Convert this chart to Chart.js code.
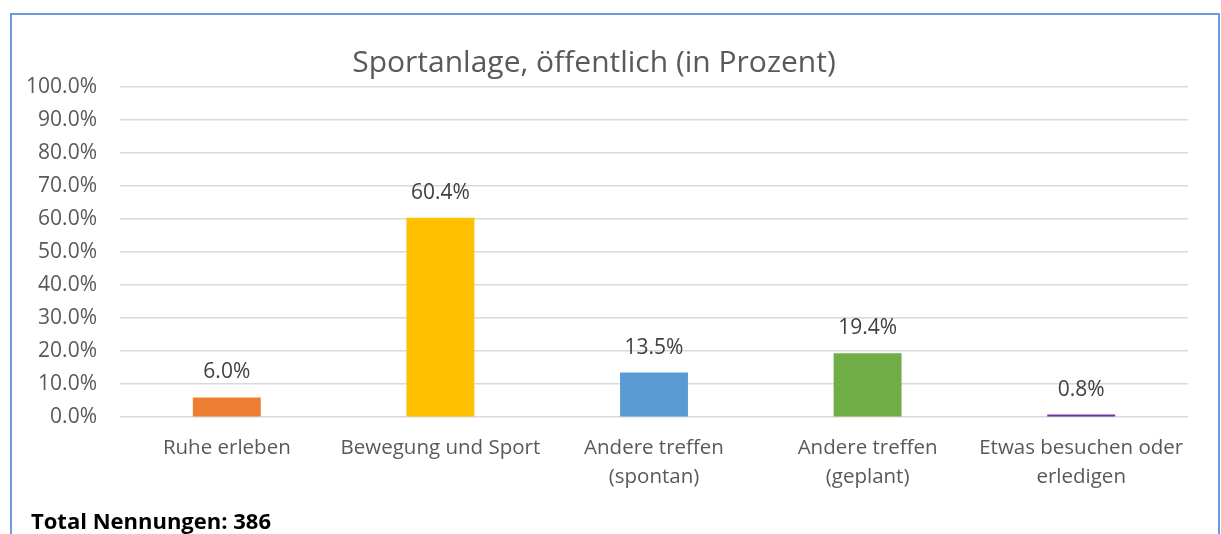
<!DOCTYPE html>
<html>
<head>
<meta charset="utf-8">
<script src="https://cdn.jsdelivr.net/npm/chart.js@4/dist/chart.umd.min.js"></script>
<style>
html,body{margin:0;padding:0;background:#fff;width:1221px;height:534px;overflow:hidden;}
#wrap{position:absolute;left:0;top:0;width:1221px;height:534px;}
#frame{position:absolute;left:10px;top:13px;width:1206px;height:560px;border:2px solid #6a9be0;pointer-events:none;}
</style>
</head>
<body>
<div id="wrap"><canvas id="c" width="1221" height="534"></canvas></div>
<div id="frame"></div>
<script>
const categories = [
  "Ruhe erleben",
  "Bewegung und Sport",
  ["Andere treffen", "(spontan)"],
  ["Andere treffen", "(geplant)"],
  ["Etwas besuchen oder", "erledigen"]
];
const values = [6.0, 60.4, 13.5, 19.4, 0.8];
const barColors = ["#ED7D31", "#FFC000", "#5B9BD5", "#70AD47", "#7030A0"];
const titleText = "Sportanlage, öffentlich (in Prozent)";
const footText = "Total Nennungen: 386";

const FONT = "'Open Sans', 'Noto Sans', sans-serif";

const valueLabels = {
  id: 'valueLabels',
  afterDatasetsDraw(chart) {
    const ctx = chart.ctx;
    const meta = chart.getDatasetMeta(0);
    ctx.save();
    ctx.font = "21px " + FONT;
    ctx.fillStyle = "#404040";
    ctx.textAlign = "center";
    ctx.textBaseline = "middle";
    meta.data.forEach((bar, i) => {
      ctx.fillText(values[i].toFixed(1) + "%", bar.x, bar.y - 25);
    });
    ctx.restore();
  }
};

const footer = {
  id: 'footer',
  afterDraw(chart) {
    const ctx = chart.ctx;
    ctx.save();
    ctx.font = "bold 22px " + FONT;
    ctx.fillStyle = "#000000";
    ctx.textAlign = "left";
    ctx.textBaseline = "alphabetic";
    ctx.fillText(footText, 31, 529);
    ctx.restore();
  }
};

new Chart(document.getElementById('c'), {
  type: 'bar',
  data: {
    labels: categories,
    datasets: [{
      data: values,
      backgroundColor: barColors,
      borderWidth: 0,
      barPercentage: 0.318,
      categoryPercentage: 1.0
    }]
  },
  options: {
    responsive: false,
    animation: false,
    devicePixelRatio: 1,
    layout: { padding: { top: 45, right: 33, left: 0, bottom: 25 } },
    plugins: {
      legend: { display: false },
      tooltip: { enabled: false },
      title: {
        display: true,
        text: titleText,
        color: "#595959",
        font: { family: FONT, size: 30, weight: 'normal', lineHeight: 1.2 },
        padding: { top: 0, bottom: 6 }
      }
    },
    scales: {
      x: {
        grid: { display: false, drawTicks: false },
        border: { display: false },
        ticks: {
          color: "#595959",
          font: { family: FONT, size: 20.5, lineHeight: 1.41 },
          padding: 17,
          maxRotation: 0,
          autoSkip: false
        }
      },
      y: {
        min: 0,
        max: 100,
        afterFit(scale) { scale.width = 120; },
        grid: { color: "#d9d9d9", lineWidth: 1.5, drawTicks: false },
        border: { display: false },
        ticks: {
          stepSize: 10,
          color: "#595959",
          font: { family: FONT, size: 21 },
          padding: 23,
          callback: v => v.toFixed(1) + "%"
        }
      }
    }
  },
  plugins: [valueLabels, footer]
});
</script>
</body>
</html>
